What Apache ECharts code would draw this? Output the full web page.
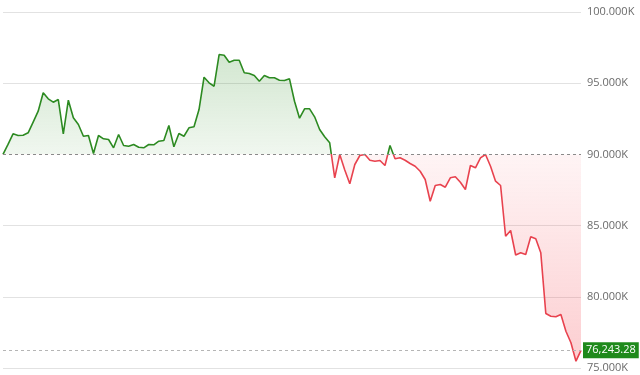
<!DOCTYPE html>
<html>
<head>
<meta charset="utf-8">
<script src="https://cdn.jsdelivr.net/npm/echarts@6/dist/echarts.min.js"></script>
<style>
html,body{margin:0;padding:0;background:#fff;}
#chart{width:640px;height:375px;}
</style>
</head>
<body>
<div id="chart"></div>
<script>
// Price series
var prices = [
  90000, 90700, 91446, 91326, 91347, 91516, 92270, 93033, 94325, 93903, 93665, 93854,
  91446, 93805, 92569, 92099, 91277, 91326, 90060, 91326, 91094, 91045,
  90462, 91396, 90624, 90575, 90694, 90505, 90462, 90694, 90673, 90926,
  90975, 92028, 90533, 91466, 91277, 91867, 91937, 93152, 95420, 95027,
  94788, 97014, 96965, 96473, 96614, 96614, 95729, 95680, 95540, 95139,
  95540, 95378, 95378, 95210, 95188, 95308, 93735, 92541, 93201, 93201,
  92639, 91747, 91235, 90814, 88356, 89992, 88900, 87934, 89290, 89922, 89992,
  89592, 89522, 89571, 89220, 90624, 89690, 89760, 89592, 89360, 89170,
  88819, 88236, 86713, 87815, 87885, 87696, 88356, 88426, 88047, 87534,
  89220, 89058, 89760, 89990, 89170, 88117, 87815, 84255, 84655, 82935,
  83089, 82970, 84213, 84072, 83089, 78827, 78637, 78595, 78757, 77584,
  76770, 75477, 76243.28
];
var categories = prices.map(function (_, i) { return 'P' + (i + 1); });
var baseline = 90000;
var lastPrice = 76243.28;
var lastPriceLabel = '76,243.28';
var yTicks = [75000, 80000, 85000, 90000, 95000, 100000];

var GREEN = '#2c8a21';
var RED = '#e8424e';

// stacked representation so the area is filled between the line and the baseline
var baseSeries = prices.map(function () { return baseline; });
var deltaSeries = prices.map(function (p) { return p - baseline; });

var chart = echarts.init(document.getElementById('chart'), null, {renderer: 'canvas'});

function buildOption(lineColor, areaColor) {
  return {
    animation: false,
    textStyle: {fontFamily: '"Open Sans", "Noto Sans", sans-serif'},
    grid: {left: 3, right: 59, top: 12, bottom: 7, containLabel: false},
    xAxis: {
      type: 'category',
      data: categories,
      boundaryGap: false,
      show: false
    },
    yAxis: {
      type: 'value',
      position: 'right',
      min: yTicks[0],
      max: yTicks[yTicks.length - 1],
      interval: 5000,
      axisLine: {show: false},
      axisTick: {show: false},
      axisLabel: {
        color: '#6b6b6b',
        fontSize: 11,
        margin: 6,
        formatter: function (v) { return (v / 1000).toFixed(3) + 'K'; }
      },
      splitLine: {
        lineStyle: {
          color: yTicks.map(function (t) { return t === baseline ? 'rgba(0,0,0,0)' : '#e2e2e2'; }),
          width: 1
        }
      }
    },
    series: [{
      type: 'line',
      data: baseSeries,
      stack: 'p',
      stackStrategy: 'all',
      showSymbol: false,
      symbol: 'none',
      lineStyle: {opacity: 0, width: 0},
      silent: true,
      z: 1
    }, {
      type: 'line',
      data: deltaSeries,
      stack: 'p',
      stackStrategy: 'all',
      showSymbol: false,
      symbol: 'none',
      lineStyle: {width: 1.6, color: lineColor},
      areaStyle: {color: areaColor, opacity: 1},
      z: 3,
      markLine: {
        silent: true,
        symbol: ['none', 'none'],
        data: [
          {
            yAxis: baseline,
            lineStyle: {color: '#8a8a8a', type: [3, 3], width: 1},
            label: {show: false}
          },
          {
            yAxis: lastPrice,
            lineStyle: {color: '#b5b5b5', type: [3, 3], width: 1},
            label: {
              show: true,
              position: 'end',
              distance: 2,
              formatter: lastPriceLabel,
              color: '#ffffff',
              backgroundColor: '#1f8a1c',
              padding: [3, 3, 2, 3],
              fontSize: 11
            }
          }
        ]
      }
    }]
  };
}

chart.setOption(buildOption(GREEN, 'rgba(0,0,0,0)'));
var yTop = chart.convertToPixel({yAxisIndex: 0}, yTicks[yTicks.length - 1]);
var yBot = chart.convertToPixel({yAxisIndex: 0}, yTicks[0]);
var yBase = chart.convertToPixel({yAxisIndex: 0}, baseline);
var f = (yBase - yTop) / (yBot - yTop);
var lineGrad = new echarts.graphic.LinearGradient(0, yTop, 0, yBot, [
  {offset: 0, color: GREEN},
  {offset: f, color: GREEN},
  {offset: f, color: RED},
  {offset: 1, color: RED}
], true);
var areaGrad = new echarts.graphic.LinearGradient(0, yTop, 0, yBot, [
  {offset: 0, color: 'rgba(44,140,33,0.27)'},
  {offset: f, color: 'rgba(44,140,33,0.07)'},
  {offset: f, color: 'rgba(245,70,80,0.06)'},
  {offset: 1, color: 'rgba(245,70,80,0.27)'}
], true);
chart.setOption(buildOption(lineGrad, areaGrad));
</script>
</body>
</html>
